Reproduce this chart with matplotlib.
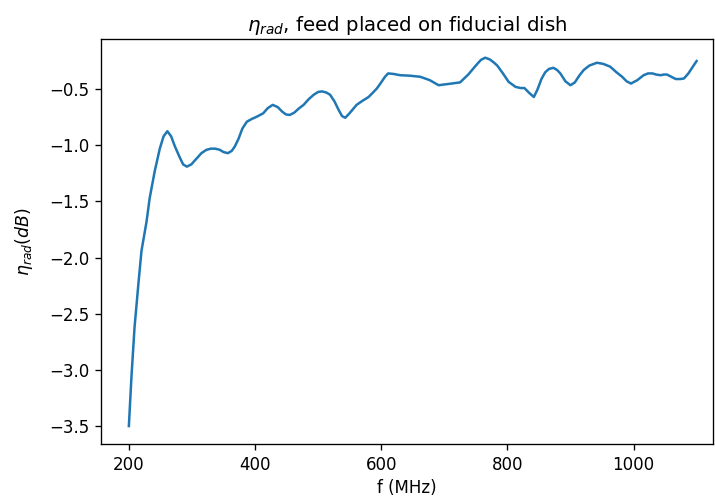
import numpy as np
import matplotlib
matplotlib.use('Agg')
import matplotlib.pyplot as plt

# frequency (MHz) and radiation efficiency (dB)
freq = [200, 204, 209, 215, 220, 228, 233, 241, 249, 255, 261, 267, 273, 280,
        286, 292, 299, 307, 315, 323, 330, 337, 344, 350, 357, 363, 368, 374,
        380, 387, 395, 403, 413, 420, 428, 436, 443, 449, 455, 462, 470, 477,
        485, 493, 500, 506, 513, 519, 526, 533, 538, 543, 549, 555, 561, 570,
        580, 587, 593, 600, 606, 611, 620, 630, 645, 662, 677, 691, 705, 725,
        738, 750, 758, 765, 772, 778, 784, 793, 802, 813, 821, 827, 834, 842,
        848, 854, 860, 866, 873, 879, 884, 892, 900, 907, 914, 921, 930, 942,
        952, 963, 973, 982, 989, 996, 1006, 1016, 1023, 1030, 1036, 1043, 1048,
        1053, 1060, 1067, 1074, 1080, 1087, 1094, 1100]
eta_rad = [-3.50, -3.07, -2.62, -2.24, -1.94, -1.68, -1.47, -1.23, -1.03, -0.92,
           -0.875, -0.92, -1.01, -1.10, -1.17, -1.19, -1.17, -1.12, -1.07, -1.04,
           -1.03, -1.03, -1.04, -1.06, -1.07, -1.05, -1.01, -0.94, -0.85, -0.79,
           -0.765, -0.745, -0.715, -0.67, -0.64, -0.66, -0.70, -0.725, -0.73, -0.71,
           -0.67, -0.64, -0.59, -0.55, -0.525, -0.52, -0.53, -0.55, -0.61, -0.69,
           -0.74, -0.755, -0.72, -0.68, -0.64, -0.605, -0.57, -0.53, -0.495, -0.44,
           -0.39, -0.36, -0.365, -0.376, -0.38, -0.39, -0.42, -0.465, -0.455, -0.44,
           -0.37, -0.29, -0.24, -0.22, -0.235, -0.26, -0.29, -0.36, -0.435, -0.48,
           -0.49, -0.49, -0.53, -0.57, -0.50, -0.41, -0.35, -0.32, -0.31, -0.33,
           -0.36, -0.43, -0.465, -0.44, -0.38, -0.33, -0.29, -0.265, -0.275, -0.30,
           -0.35, -0.39, -0.43, -0.45, -0.42, -0.376, -0.36, -0.36, -0.37, -0.376,
           -0.37, -0.37, -0.39, -0.41, -0.41, -0.405, -0.36, -0.30, -0.25]

fig = plt.figure(figsize=(7.15, 5.01), dpi=100)
ax = fig.add_axes([0.1408, 0.1128, 0.8564, 0.8088])

ax.plot(freq, eta_rad, color='#1f77b4', linewidth=1.8)
ax.set_xlim(155.3, 1126)

ax.set_title(r'$\eta_{rad}$, feed placed on fiducial dish', fontsize=14.2)
ax.set_xlabel('f (MHz)', fontsize=12)
ax.set_ylabel(r'$\eta_{rad} (dB)$', fontsize=12.5, labelpad=10)
ax.tick_params(labelsize=12, length=4.5, width=0.96)
for sp in ax.spines.values():
    sp.set_linewidth(0.96)
ax.set_xticks([200, 400, 600, 800, 1000])

fig.savefig('out.png', dpi=100)
